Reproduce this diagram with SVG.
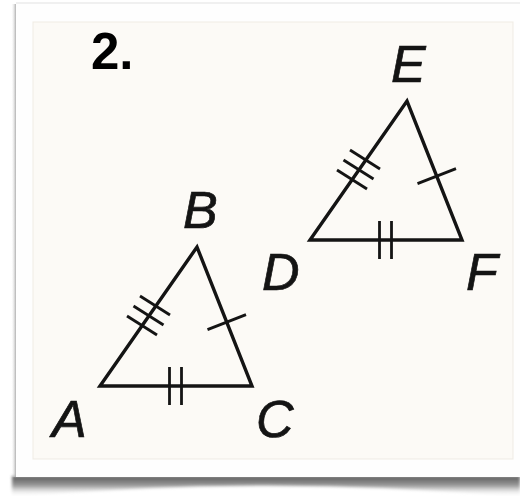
<svg xmlns="http://www.w3.org/2000/svg" width="520" height="496" viewBox="0 0 520 496">
  <defs>
    <linearGradient id="shBottom" x1="0" y1="0" x2="0" y2="1">
      <stop offset="0" stop-color="#5a5a5a"/>
      <stop offset="0.45" stop-color="#9a9a9a"/>
      <stop offset="1" stop-color="#ffffff" stop-opacity="0"/>
    </linearGradient>
    <linearGradient id="shLeft" x1="0" y1="0" x2="1" y2="0">
      <stop offset="0" stop-color="#ffffff" stop-opacity="0"/>
      <stop offset="1" stop-color="#b0b0b0"/>
    </linearGradient>
    <filter id="soft" x="-5%" y="-50%" width="110%" height="200%">
      <feGaussianBlur stdDeviation="1.5"/>
    </filter>
    <style>
      .edge { fill: none; stroke: #141414; stroke-width: 3.4; stroke-linejoin: miter; }
      .tick { stroke: #141414; stroke-width: 2.8; stroke-linecap: butt; }
      .lbl { font-family: "Liberation Sans", Arial, sans-serif; font-style: italic; font-size: 52px; fill: #141414; stroke: #141414; stroke-width: 0.7; }
      .num { font-family: "Liberation Sans", Arial, sans-serif; font-weight: bold; font-size: 51px; fill: #000; }
    </style>
  </defs>

  <!-- page background and card -->
  <rect x="0" y="0" width="520" height="496" fill="#ffffff"/>
  <path d="M 12,476 L 520,476 L 520,497 Q 266,474 12,497 Z" fill="url(#shBottom)" filter="url(#soft)"/>
  <rect x="11" y="4" width="5" height="473" fill="url(#shLeft)"/>
  <rect x="16" y="2" width="504" height="2" fill="#f0f0f0"/>
  <rect x="16" y="4" width="510" height="473" fill="#fefefe"/>
  <rect x="33" y="22" width="480" height="437" fill="#fcfaf6" stroke="#efebe4" stroke-width="1"/>

  <text class="num" x="91" y="69">2.</text>

  <g id="triangle-ABC">
    <polygon class="edge" points="100,386 197,247 252,386"/>
  </g>

  <g id="triangle-DEF">
    <polygon class="edge" points="310,240 407,101 462,240"/>
  </g>

  <g id="connectors">
    <g id="ticks-ABC">
      <line class="tick" x1="140" y1="296" x2="170" y2="315"/>
      <line class="tick" x1="133.5" y1="306" x2="163.5" y2="325"/>
      <line class="tick" x1="127" y1="316" x2="157" y2="335"/>
      <line class="tick" x1="207.5" y1="329.6" x2="246" y2="314.6"/>
      <line class="tick" x1="169.5" y1="367" x2="169.5" y2="405"/>
      <line class="tick" x1="181.5" y1="367" x2="181.5" y2="405"/>
    </g>
    <g id="ticks-DEF" transform="translate(210,-146)">
      <line class="tick" x1="140" y1="296" x2="170" y2="315"/>
      <line class="tick" x1="133.5" y1="306" x2="163.5" y2="325"/>
      <line class="tick" x1="127" y1="316" x2="157" y2="335"/>
      <line class="tick" x1="207.5" y1="329.6" x2="246" y2="314.6"/>
      <line class="tick" x1="169.5" y1="367" x2="169.5" y2="405"/>
      <line class="tick" x1="181.5" y1="367" x2="181.5" y2="405"/>
    </g>
  </g>

  <g id="label-A"><text class="lbl" x="52" y="437">A</text></g>
  <g id="label-B"><text class="lbl" x="183" y="228">B</text></g>
  <g id="label-C"><text class="lbl" x="256" y="437">C</text></g>
  <g id="label-D"><text class="lbl" x="262" y="290">D</text></g>
  <g id="label-E"><text class="lbl" x="391" y="82">E</text></g>
  <g id="label-F"><text class="lbl" x="466" y="290">F</text></g>
</svg>
